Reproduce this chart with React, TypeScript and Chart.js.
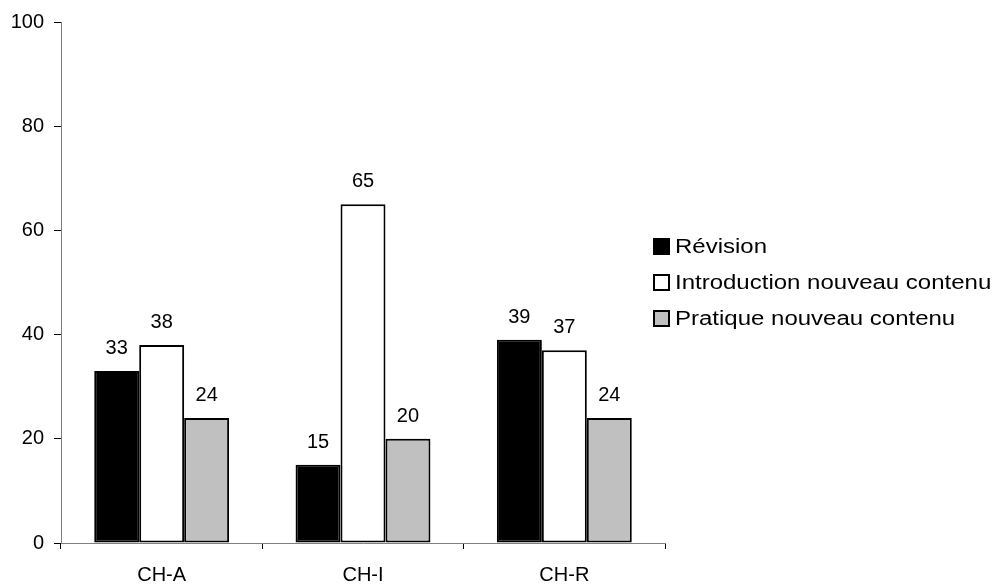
import React, { useEffect, useRef } from "react";
import { Chart, registerables } from "chart.js";

Chart.register(...registerables);

const categories = ["CH-A", "CH-I", "CH-R"];
const seriesNames = ["Révision", "Introduction nouveau contenu", "Pratique nouveau contenu"];
const revision = [33, 15, 39];
const introduction = [38, 65, 37];
const pratique = [24, 20, 24];
const yTicks = [0, 20, 40, 60, 80, 100];

const FONT = '"Liberation Sans", Arial, sans-serif';
const fills = ["#000000", "#ffffff", "#c0c0c0"];

const valueLabels = {
  id: "valueLabels",
  afterDatasetsDraw(chart: any) {
    const ctx = chart.ctx;
    ctx.save();
    ctx.font = `20px ${FONT}`;
    ctx.fillStyle = "#000";
    ctx.textAlign = "center";
    ctx.textBaseline = "alphabetic";
    chart.data.datasets.forEach((ds: any, di: number) => {
      const meta = chart.getDatasetMeta(di);
      meta.data.forEach((bar: any, i: number) => {
        ctx.fillText(String(ds.data[i]), bar.x, bar.y - 17);
      });
    });
    ctx.restore();
  },
};

const sideLegend = {
  id: "sideLegend",
  afterDraw(chart: any) {
    const ctx = chart.ctx;
    const area = chart.chartArea;
    const x = area.right - 12;
    const box = 17;
    const gap = 36;
    const cy = (area.top + area.bottom) / 2;
    const n = chart.data.datasets.length;
    ctx.save();
    chart.data.datasets.forEach((ds: any, i: number) => {
      const y = cy + (i - (n - 1) / 2) * gap;
      ctx.fillStyle = ds.backgroundColor;
      ctx.fillRect(x, y - box / 2, box, box);
      ctx.lineWidth = 2;
      ctx.strokeStyle = "#000";
      ctx.strokeRect(x + 1, y - box / 2 + 1, box - 2, box - 2);
      ctx.save();
      ctx.translate(x + box + 5, y);
      ctx.scale(1.2, 1);
      ctx.font = `20px ${FONT}`;
      ctx.fillStyle = "#000";
      ctx.textAlign = "left";
      ctx.textBaseline = "middle";
      ctx.fillText(ds.label, 0, 1);
      ctx.restore();
    });
    ctx.restore();
  },
};

export default function App() {
  const ref = useRef<HTMLCanvasElement | null>(null);
  useEffect(() => {
    if (!ref.current) return;
    const chart = new Chart(ref.current, {
      type: "bar",
      data: {
        labels: categories,
        datasets: [revision, introduction, pratique].map((d, i) => ({
          label: seriesNames[i],
          data: d,
          backgroundColor: fills[i],
          borderColor: "#000",
          borderWidth: 2,
          borderSkipped: false,
          barPercentage: 1,
          categoryPercentage: 0.67,
        })),
      },
      options: {
        animation: false,
        responsive: false,
        maintainAspectRatio: false,
        layout: { padding: { left: 0, right: 331, top: 21, bottom: 0 } },
        plugins: { legend: { display: false }, tooltip: { enabled: false } },
        scales: {
          x: {
            afterFit: (s: any) => { s.height = 42; },
            grid: { display: true, offset: true, drawOnChartArea: false, drawTicks: true, tickLength: 6, color: "#000", lineWidth: 1 },
            border: { display: true, color: "#808080", width: 1 },
            ticks: { color: "#000", font: { family: FONT, size: 20 }, padding: 14 },
          },
          y: {
            min: 0,
            max: 100,
            afterFit: (s: any) => { s.width = 61; },
            afterBuildTicks: (s: any) => { s.ticks = yTicks.map((v) => ({ value: v })); },
            grid: { display: true, drawOnChartArea: false, drawTicks: true, tickLength: 7, color: "#000", lineWidth: 1 },
            border: { display: true, color: "#808080", width: 1 },
            ticks: { color: "#000", font: { family: FONT, size: 20 }, padding: 10 },
          },
        },
      },
      plugins: [valueLabels, sideLegend],
    });
    return () => chart.destroy();
  }, []);
  return (
    <div style={{ position: "fixed", left: 0, top: 0, width: 996, height: 585, background: "#fff" }}>
      <canvas ref={ref} width={996} height={585} style={{ display: "block", width: 996, height: 585 }} />
    </div>
  );
}
